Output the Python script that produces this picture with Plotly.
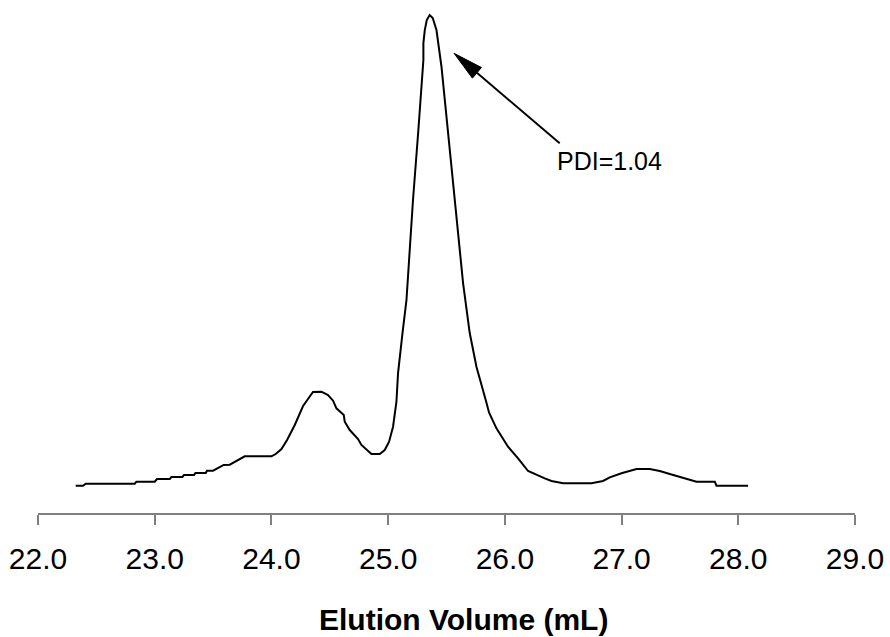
import plotly.graph_objects as go

# Elution volume (mL) and relative detector response (normalised, peak = 1)
volume = [22.323, 22.386, 22.409, 22.829, 22.843, 23.000, 23.020, 23.129, 23.143, 23.237,
          23.251, 23.337, 23.349, 23.437, 23.448, 23.500, 23.591, 23.643, 23.771, 24.000,
          24.037, 24.086, 24.134, 24.200, 24.271, 24.328, 24.356, 24.428, 24.485, 24.528,
          24.557, 24.620, 24.628, 24.671, 24.742, 24.771, 24.857, 24.928, 24.971, 25.008,
          25.042, 25.071, 25.085, 25.123, 25.157, 25.185, 25.213, 25.259, 25.302, 25.302,
          25.314, 25.331, 25.356, 25.382, 25.414, 25.457, 25.511, 25.571, 25.599, 25.642,
          25.699, 25.757, 25.836, 25.865, 25.928, 26.027, 26.113, 26.199, 26.342, 26.399,
          26.499, 26.742, 26.841, 26.899, 26.999, 27.070, 27.128, 27.242, 27.327, 27.413,
          27.499, 27.642, 27.799, 27.813, 28.084]
response = [0.0000, 0.0000, 0.0042, 0.0042, 0.0085, 0.0085, 0.0142, 0.0142, 0.0185, 0.0185,
            0.0227, 0.0227, 0.0270, 0.0270, 0.0319, 0.0319, 0.0440, 0.0446, 0.0625, 0.0625,
            0.0673, 0.0780, 0.0971, 0.1290, 0.1693, 0.1878, 0.1991, 0.1997, 0.1927, 0.1806,
            0.1644, 0.1502, 0.1360, 0.1183, 0.0992, 0.0865, 0.0673, 0.0673, 0.0758, 0.0935,
            0.1253, 0.1785, 0.2394, 0.3244, 0.3945, 0.5007, 0.6070, 0.7557, 0.9044, 0.9405,
            0.9681, 0.9894, 1.0000, 0.9936, 0.9681, 0.8902, 0.7557, 0.6070, 0.5220, 0.4306,
            0.3244, 0.2522, 0.1821, 0.1551, 0.1219, 0.0829, 0.0582, 0.0312, 0.0157, 0.0100,
            0.0051, 0.0051, 0.0100, 0.0178, 0.0263, 0.0319, 0.0355, 0.0355, 0.0312, 0.0249,
            0.0185, 0.0085, 0.0085, 0.0000, 0.0000]

tick_values = [22, 23, 24, 25, 26, 27, 28, 29]
tick_labels = ["22.0", "23.0", "24.0", "25.0", "26.0", "27.0", "28.0", "29.0"]
x_title = "Elution Volume (mL)"
label_text = "PDI=1.04"

FONT = "Liberation Sans, Arial, sans-serif"
W, H = 890, 637
ML, MR, MT, MB = 38, 35, 0, 124
XR = [22, 29]
YR = [-0.058, 1.032]

fig = go.Figure()
fig.add_trace(go.Scatter(x=volume, y=response, mode="lines",
                         line=dict(color="black", width=2), showlegend=False,
                         hoverinfo="skip"))

# arrow (tip near peak, tail near label)
tip = (25.565, 0.9186)
tail = (26.470, 0.7274)
pxx = (W - ML - MR) / (XR[1] - XR[0])
pxy = (H - MT - MB) / (YR[1] - YR[0])
dx = (tail[0] - tip[0]) * pxx
dy = (tail[1] - tip[1]) * pxy
L = (dx ** 2 + dy ** 2) ** 0.5
ux, uy = dx / L, dy / L
head_len, half_w = 30, 7
bx, by = head_len * ux, head_len * uy
nx, ny = -uy, ux
c1 = (tip[0] + (bx + half_w * nx) / pxx, tip[1] + (by + half_w * ny) / pxy)
c2 = (tip[0] + (bx - half_w * nx) / pxx, tip[1] + (by - half_w * ny) / pxy)
base = (tip[0] + bx / pxx, tip[1] + by / pxy)

fig.add_shape(type="line", xref="x", yref="y", x0=base[0], y0=base[1],
              x1=tail[0], y1=tail[1], line=dict(color="black", width=2))
fig.add_shape(type="path", xref="x", yref="y",
              path=f"M{tip[0]},{tip[1]} L{c1[0]},{c1[1]} L{c2[0]},{c2[1]} Z",
              fillcolor="black", line=dict(color="black", width=1))

fig.add_annotation(x=26.428, y=0.690, xref="x", yref="y", text=label_text,
                   showarrow=False, xanchor="left", yanchor="middle",
                   font=dict(family=FONT, size=25, color="black"))

fig.add_annotation(x=(463 - ML) / (W - ML - MR), y=-(619 - (H - MB)) / (H - MT - MB),
                   xref="paper", yref="paper", text=f"<b>{x_title}</b>",
                   showarrow=False, xanchor="center", yanchor="middle",
                   font=dict(family=FONT, size=30, color="black"))

fig.update_xaxes(range=XR, tickvals=tick_values, ticktext=tick_labels,
                 showline=True, linecolor="#808080", linewidth=1.5,
                 ticks="outside", ticklen=10, tickcolor="#808080", tickwidth=1.5,
                 ticklabelstandoff=8,
                 showgrid=False, zeroline=False,
                 tickfont=dict(family=FONT, size=30, color="black"))
fig.update_yaxes(range=YR, visible=False, showgrid=False, zeroline=False)

fig.update_layout(width=W, height=H, margin=dict(l=ML, r=MR, t=MT, b=MB),
                  plot_bgcolor="white", paper_bgcolor="white",
                  font=dict(family=FONT))

fig.write_html("out.html", config={"displayModeBar": False},
               post_script="document.body.style.margin='0';document.body.style.overflow='hidden';")
